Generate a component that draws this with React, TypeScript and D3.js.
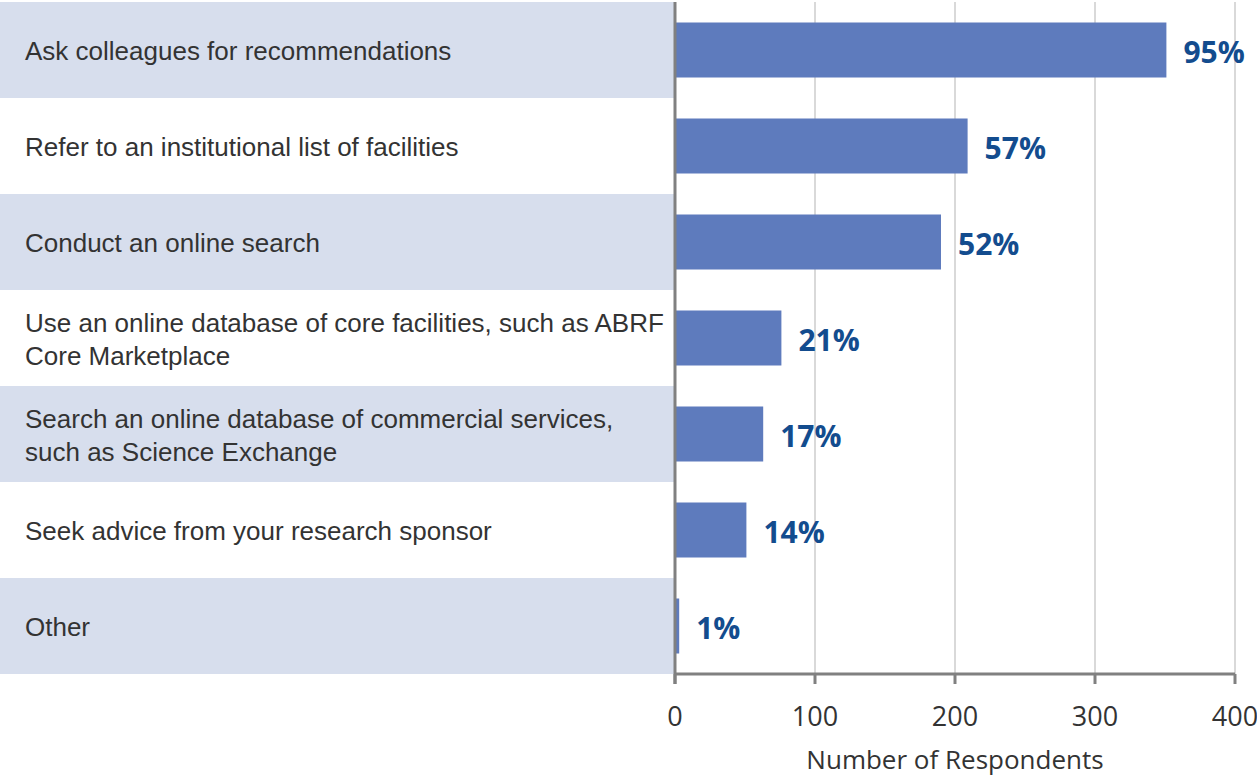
import React from "react";
import * as d3 from "d3";

const categories: string[][] = [
  ["Ask colleagues for recommendations"],
  ["Refer to an institutional list of facilities"],
  ["Conduct an online search"],
  ["Use an online database of core facilities, such as ABRF", "Core Marketplace"],
  ["Search an online database of commercial services,", "such as Science Exchange"],
  ["Seek advice from your research sponsor"],
  ["Other"],
];
const counts: number[] = [351, 209, 190, 76, 63, 51, 3];
const percents: string[] = ["95%", "57%", "52%", "21%", "17%", "14%", "1%"];
const ticks: number[] = [0, 100, 200, 300, 400];

export default function App() {
  const W = 1257, H = 776;
  const x0 = 675, x1 = 1235;
  const top = 2, bottom = 674;
  const x = d3.scaleLinear().domain([0, 400]).range([x0, x1]);
  const y = d3.scaleBand<number>().domain(d3.range(categories.length)).range([top, bottom]).paddingInner(0).paddingOuter(0);
  const bh = 55;
  return (
    <svg width={W} height={H} style={{ position: "absolute", left: 0, top: 0 }}>
      <rect width={W} height={H} fill="#fff" />
      {categories.map((_, i) =>
        i % 2 === 0 ? (
          <rect key={"b" + i} x={0} y={y(i)!} width={x0 - 1} height={y.bandwidth()} fill="#d7deed" />
        ) : null
      )}
      {ticks.slice(1).map((t) => (
        <line key={"g" + t} x1={x(t)} x2={x(t)} y1={2} y2={bottom} stroke="#d9d9d9" strokeWidth={2} />
      ))}
      {counts.map((c, i) => (
        <rect key={"r" + i} x={x(0)} y={y(i)! + y.bandwidth() / 2 - bh / 2} width={x(c) - x(0)} height={bh} fill="#5e7bbd" />
      ))}
      {counts.map((c, i) => (
        <text key={"p" + i} x={x(c) + 17} y={y(i)! + y.bandwidth() / 2 + 13} fill="#134c8e" fontFamily="'Open Sans', sans-serif" fontWeight={700} fontSize={30}>
          {percents[i]}
        </text>
      ))}
      {categories.map((lines, i) => {
        const cy = y(i)! + y.bandwidth() / 2;
        const lh = 33;
        const start = cy - ((lines.length - 1) * lh) / 2 + 10;
        return (
          <text key={"c" + i} fill="#333" fontFamily="'Liberation Sans', Arial, sans-serif" fontSize={26}>
            {lines.map((l, j) => (
              <tspan key={j} x={25} y={start + j * lh}>{l}</tspan>
            ))}
          </text>
        );
      })}
      <line x1={x0} x2={x0} y1={2} y2={684} stroke="#808080" strokeWidth={3} />
      <line x1={x0} x2={x1} y1={674} y2={674} stroke="#808080" strokeWidth={3} />
      {ticks.map((t) => (
        <g key={"t" + t}>
          <line x1={x(t)} x2={x(t)} y1={674} y2={684} stroke="#808080" strokeWidth={3} />
          <text x={x(t)} y={726} textAnchor="middle" fill="#333" fontFamily="'Open Sans', sans-serif" fontSize={27}>{t}</text>
        </g>
      ))}
      <text x={955} y={769} textAnchor="middle" fill="#333" fontFamily="'Open Sans', sans-serif" fontSize={26}>Number of Respondents</text>
    </svg>
  );
}
